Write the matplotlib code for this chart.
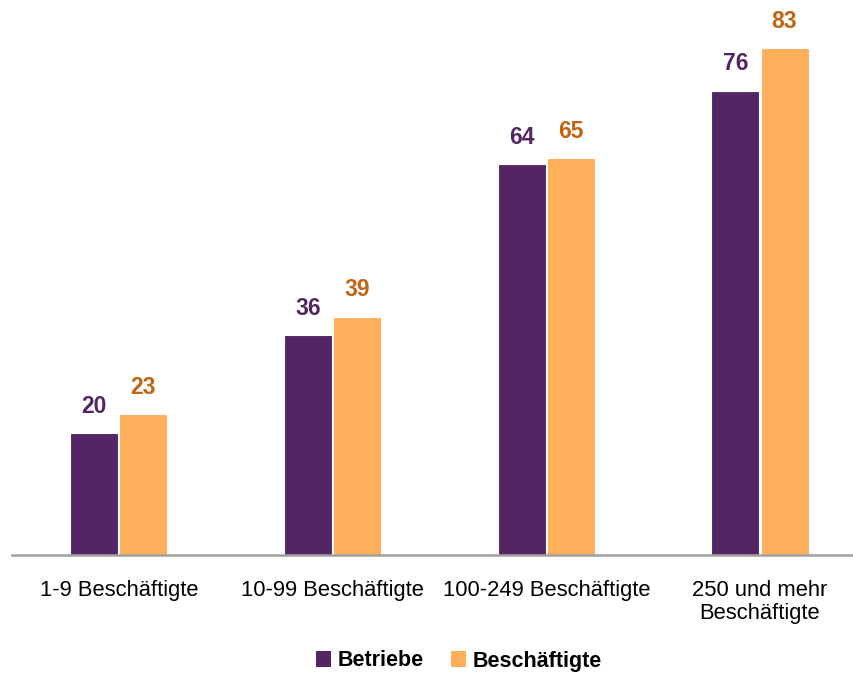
import matplotlib.pyplot as plt
from matplotlib.patches import Patch
import numpy as np

# Data
categories = ['1-9 Beschäftigte', '10-99 Beschäftigte', '100-249 Beschäftigte',
              '250 und mehr\nBeschäftigte']
betriebe = [20, 36, 64, 76]
beschaeftigte = [23, 39, 65, 83]
series_names = ['Betriebe', 'Beschäftigte']

purple = '#532663'
orange = '#FFAF5A'
orange_text = '#BF6410'

narrow = ['Liberation Sans Narrow', 'Liberation Sans', 'DejaVu Sans']
regular = ['Liberation Sans', 'DejaVu Sans']

fig = plt.figure(figsize=(8.54, 6.75), dpi=100)
ax = fig.add_axes([12 / 854, 120 / 675, 842 / 854, 555 / 675])

x = np.arange(len(categories))
w = 0.225
off = 0.115
b1 = ax.bar(x - off, betriebe, w, color=purple, edgecolor='white', linewidth=0.8)
b2 = ax.bar(x + off, beschaeftigte, w, color=orange, edgecolor='white', linewidth=0.8)

# value labels
for bars, vals, col in [(b1, betriebe, purple), (b2, beschaeftigte, orange_text)]:
    for r, v in zip(bars, vals):
        ax.annotate(str(v), (r.get_x() + r.get_width() / 2, r.get_height()),
                    xytext=(0, 11), textcoords='offset points',
                    ha='center', va='bottom', fontsize=16.5, fontweight='bold',
                    color=col, family=narrow)

ax.set_xlim(-0.5, 3.44)
ax.set_ylim(0, 90.85)
ax.set_xticks(x)
ax.set_xticklabels(categories, fontsize=15.8, family=narrow, linespacing=1.15)
ax.tick_params(axis='x', length=0, pad=18)
ax.set_yticks([])
for s in ['top', 'right', 'left']:
    ax.spines[s].set_visible(False)
ax.spines['bottom'].set_color('#A0A0A0')
ax.spines['bottom'].set_linewidth(1.8)

handles = [Patch(facecolor=purple), Patch(facecolor=orange)]
fig.legend(handles, series_names, loc='center', bbox_to_anchor=(459 / 854, 1 - 661 / 675),
           ncol=2, frameon=False, handlelength=0.7, handleheight=0.7,
           handletextpad=0.3, columnspacing=1.25,
           prop={'family': regular, 'weight': 'bold', 'size': 15.5})

fig.savefig('out.png', dpi=100)
